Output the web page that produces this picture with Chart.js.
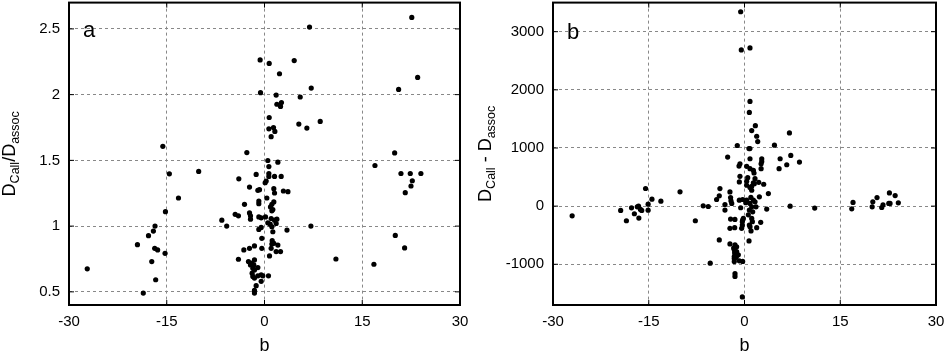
<!DOCTYPE html>
<html>
<head>
<meta charset="utf-8">
<script src="https://cdn.jsdelivr.net/npm/chart.js@4.4.1/dist/chart.umd.min.js"></script>
<style>
  html, body { margin: 0; padding: 0; background: #fff; }
  #wrap { position: relative; width: 946px; height: 352px; }
  canvas { position: absolute; top: 0; }
</style>
</head>
<body>
<div id="wrap">
  <canvas id="chartA" width="473" height="352" style="left:0"></canvas>
  <canvas id="chartB" width="473" height="352" style="left:473px"></canvas>
</div>
<script>
// tick labels
const bTicks = [-30, -15, 0, 15, 30];
const ratioTicks = [0.5, 1, 1.5, 2, 2.5];
const diffTicks = [-1000, 0, 1000, 2000, 3000];

// panel a: b vs Dcall/Dassoc
const bA = [
  -27.2, -19.5, -18.6, -17.8, -17.3, -17.05, -16.85, -16.8, -16.7, -16.4,
  -15.6, -15.26, -15.2, -14.6, -13.2, -10.1, -6.55, -5.8, -4.5, -4.0,
  -3.94, -4.0, -3.17, -3.07, -2.71, -2.46, -2.3, -2.3, -2.3, -2.15,
  -2.15, -2.15, -1.95, -1.9, -1.79, -1.79, -1.64, -1.54, -1.54, -1.54,
  -1.54, -1.54, -1.54, -1.28, -1.28, -1.02, -1.02, -1.02, -0.87, -0.87,
  -0.87, -0.87, -0.77, -0.67, -0.61, -0.51, -0.51, -0.51, -0.51, -0.41,
  -0.41, -0.26, 0.10, 0.15, 0.26, 0.36, 0.51, 0.51, 0.61, 0.67,
  0.67, 0.67, 0.67, 0.72, 0.72, 0.77, 0.87, 0.92, 1.02, 1.02,
  1.02, 1.13, 1.13, 1.13, 1.13, 1.18, 1.28, 1.28, 1.38, 1.43,
  1.43, 1.43, 1.54, 1.54, 1.54, 1.59, 1.79, 1.79, 1.79, 1.9,
  1.9, 2.05, 2.05, 2.3, 2.46, 2.46, 2.56, 2.6, 2.9, 3.45,
  3.6, 4.56, 5.27, 5.48, 6.5, 6.91, 7.12, 7.17, 8.55, 10.96,
  16.79, 16.95, 19.97, 20.07, 20.58, 20.94, 21.5, 21.6, 22.37, 22.48,
  22.6, 22.68, 23.5, 24.0
];
const ratioA = [
  0.675, 0.859, 0.491, 0.927, 0.730, 0.962, 0.831, 1.000, 0.592, 0.819,
  1.607, 0.793, 1.110, 1.398, 1.214, 1.416, 1.045, 1.000, 1.090, 1.078,
  1.360, 0.748, 0.819, 1.166, 1.559, 0.730, 1.297, 1.100, 0.831, 1.078,
  1.053, 0.705, 0.718, 0.642, 0.680, 0.617, 0.705, 0.849, 0.743, 0.667,
  0.605, 0.511, 0.491, 1.393, 0.547, 1.272, 0.685, 0.622, 1.191, 1.171,
  1.070, 0.975, 1.277, 2.264, 2.015, 1.063, 0.990, 0.630, 0.580, 0.907,
  0.831, 0.622, 1.330, 1.070, 1.343, 1.214, 1.499, 1.025, 0.622, 1.453,
  1.400, 1.378, 1.740, 2.237, 1.826, 0.773, 1.015, 1.146, 1.680, 1.058,
  0.831, 1.166, 1.116, 0.995, 0.864, 0.889, 1.126, 0.957, 1.750, 1.285,
  1.184, 0.869, 1.378, 1.252, 1.045, 1.720, 1.997, 1.020, 0.806, 1.927,
  1.053, 1.486, 0.856, 2.159, 1.910, 0.806, 1.378, 1.940, 1.267, 0.970,
  1.262, 2.259, 1.776, 1.982, 1.746, 2.514, 1.000, 2.050, 1.796, 0.750,
  0.710, 1.461, 1.557, 0.929, 2.040, 1.400, 0.834, 1.254, 1.400, 1.305,
  2.587, 1.345, 2.131, 1.400
];

// panel b: b vs Dcall - Dassoc
const bB = [
  -27.0, -19.4, -18.5, -17.7, -17.25, -16.8, -16.6, -16.55, -16.3, -16.1,
  -15.5, -15.1, -15.1, -14.5, -13.1, -10.1, -7.7, -6.47, -5.68, -5.37,
  -4.37, -3.95, -3.85, -3.95, -3.06, -3.06, -2.64, -2.28, -2.18, -2.12,
  -2.0, -2.18, -2.28, -2.28, -1.5, -1.54, -1.49, -1.23, -1.7, -1.6,
  -1.23, -1.55, -1.45, -0.97, -1.6, -1.3, -1.6, -0.81, -1.6, -0.29,
  -1.49, -1.49, -0.34, -1.13, -0.86, -0.71, -0.71, -0.81, -0.81, -0.6,
  -0.6, -0.5, -0.29, -0.18, -0.29, -0.34, -0.34, -0.45, 0.34, 0.34,
  0.34, 0.34, 0.5, 0.7, 0.71, 0.76, 0.76, 0.76, 0.85, 0.86,
  0.86, 0.86, 0.86, 0.86, 0.86, 0.86, 1.02, 1.13, 1.13, 1.13,
  1.13, 1.13, 1.23, 1.28, 1.39, 1.39, 1.39, 1.49, 1.54, 1.65,
  1.65, 1.7, 1.8, 1.91, 1.91, 2.07, 2.23, 2.33, 2.54, 2.6,
  2.6, 2.7, 2.7, 3.01, 3.48, 3.74, 4.69, 5.42, 5.58, 6.62,
  7.04, 7.25, 8.61, 7.15, 11.0, 16.8, 17.0, 20.0, 20.1, 20.76,
  21.5, 21.7, 22.6, 22.7, 22.8, 23.6, 24.1, 0.2, 1.0, 0.6
];
const diffB = [
  -166, -74, -251, -29, -131, -11, 0, -206, -57, -74,
  303, 34, -69, 120, 86, 246, -251, 6, -6, -980,
  114, 177, 302, -581, 28, -68, 843, 245, 148, 91,
  46, -222, -382, -650, -228, -370, -667, -700, -720, -752,
  -780, -800, -830, -837, -866, -880, -900, -940, -951, -951,
  -1162, -1208, -1561, 1043, 689, 729, 513, 416, 103, -28,
  3343, 2686, 114, -211, -239, -268, -325, -382, 684, 427,
  359, 103, 490, 990, -598, 1612, -68, -325, 990, 2720,
  1800, 815, 644, 319, 46, -353, -427, 1299, 342, 273,
  -11, -211, -268, -97, 615, 399, 103, 570, 387, 473,
  74, 1384, -11, 1202, -370, 1111, 410, 160, -279, 729,
  644, 815, 769, 376, -51, 216, 1048, 644, 815, 712,
  1259, 872, 758, 0, -34, -46, 63, -11, 74, 148,
  -23, 23, 46, 228, 46, 182, 57, 60, 150, -150
];

const tickFont = { family: 'Liberation Sans, Arial, sans-serif', size: 15 };

// frame, inward ticks, panel letter and axis titles (gnuplot look)
const framePlugin = {
  id: 'frame',
  afterDatasetsDraw(chart, args, opts) {
    const { ctx, chartArea: a, scales } = chart;
    ctx.save();
    ctx.strokeStyle = '#000';
    ctx.lineWidth = 1;
    scales.x.ticks.forEach(t => {
      const px = scales.x.getPixelForValue(t.value);
      ctx.beginPath();
      ctx.moveTo(px, a.bottom); ctx.lineTo(px, a.bottom - 5);
      ctx.moveTo(px, a.top); ctx.lineTo(px, a.top + 5);
      ctx.stroke();
    });
    scales.y.ticks.forEach(t => {
      const py = scales.y.getPixelForValue(t.value);
      ctx.beginPath();
      ctx.moveTo(a.left, py); ctx.lineTo(a.left + 5, py);
      ctx.moveTo(a.right, py); ctx.lineTo(a.right - 5, py);
      ctx.stroke();
    });
    ctx.lineWidth = 2;
    ctx.strokeRect(a.left, a.top, a.right - a.left, a.bottom - a.top);

    ctx.fillStyle = '#000';
    ctx.font = '22px Liberation Sans, Arial, sans-serif';
    ctx.textAlign = 'left';
    ctx.textBaseline = 'alphabetic';
    ctx.fillText(opts.letter, a.left + 14, opts.letterY);

    ctx.font = '18px Liberation Sans, Arial, sans-serif';
    ctx.textAlign = 'center';
    ctx.fillText('b', (a.left + a.right) / 2, 351);

    // y title with subscripts
    const big = '18px Liberation Sans, Arial, sans-serif';
    const small = '12.5px Liberation Sans, Arial, sans-serif';
    let total = 0;
    opts.yTitle.forEach(p => { ctx.font = p[1] ? small : big; total += ctx.measureText(p[0]).width; });
    ctx.translate(opts.yTitleX, (a.top + a.bottom) / 2);
    ctx.rotate(-Math.PI / 2);
    ctx.textAlign = 'left';
    let x = -total / 2;
    opts.yTitle.forEach(p => {
      ctx.font = p[1] ? small : big;
      ctx.fillText(p[0], x, p[1] ? 4 : 0);
      x += ctx.measureText(p[0]).width;
    });
    ctx.restore();
  }
};

function noPad(s) {
  s.paddingTop = 0; s.paddingBottom = 0; s.paddingLeft = 0; s.paddingRight = 0;
}

function makeChart(id, xs, ys, yMin, yMax, yTicks, axisW, padRight, plug) {
  return new Chart(document.getElementById(id), {
    type: 'scatter',
    data: {
      datasets: [{
        data: xs.map((v, i) => ({ x: v, y: ys[i] })),
        backgroundColor: '#000',
        borderWidth: 0,
        pointRadius: 2.6,
        pointHoverRadius: 2.6
      }]
    },
    options: {
      responsive: false,
      animation: false,
      devicePixelRatio: 1,
      layout: { padding: { left: 0, right: padRight, top: 1, bottom: 0 } },
      plugins: { legend: { display: false }, tooltip: { enabled: false }, frame: plug },
      scales: {
        x: {
          type: 'linear', min: -30, max: 30,
          afterBuildTicks: s => { s.ticks = bTicks.map(v => ({ value: v })); },
          afterFit: s => { s.height = 47; noPad(s); },
          ticks: { font: tickFont, color: '#000', padding: 8, maxRotation: 0, autoSkip: false },
          grid: { color: '#888', drawTicks: false },
          border: { display: false, dash: [3, 3] }
        },
        y: {
          type: 'linear', min: yMin, max: yMax,
          afterBuildTicks: s => { s.ticks = yTicks.map(v => ({ value: v })); },
          afterFit: s => { s.width = axisW; noPad(s); },
          ticks: { font: tickFont, color: '#000', padding: 9, callback: v => String(v) },
          grid: { color: '#888', drawTicks: false },
          border: { display: false, dash: [3, 3] }
        }
      }
    },
    plugins: [framePlugin]
  });
}

makeChart('chartA', bA, ratioA, 0.4, 2.7, ratioTicks, 69, 13, {
  letter: 'a', letterY: 37, yTitleX: 15,
  yTitle: [['D', false], ['Call', true], ['/', false], ['D', false], ['assoc', true]]
});
makeChart('chartB', bB, diffB, -1700, 3500, diffTicks, 80, 10, {
  letter: 'b', letterY: 39, yTitleX: 18,
  yTitle: [['D', false], ['Call', true], [' - ', false], ['D', false], ['assoc', true]]
});
</script>
</body>
</html>
